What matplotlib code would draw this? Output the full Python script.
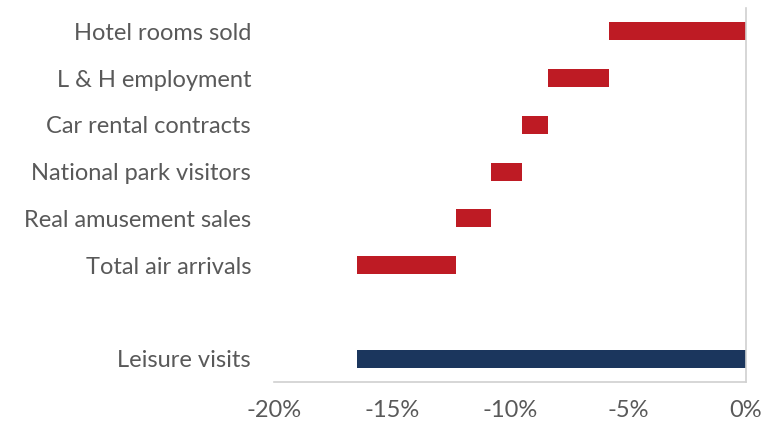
import numpy as np
import matplotlib.pyplot as plt

plt.rcParams['font.family'] = ['Lato', 'DejaVu Sans']

# Contributions to the drop in leisure visits (percentage points)
categories = ['Hotel rooms sold', 'L & H employment', 'Car rental contracts',
              'National park visitors', 'Real amusement sales', 'Total air arrivals']
changes = [-5.8, -2.6, -1.1, -1.3, -1.5, -4.2]
total_label = 'Leisure visits'
total_value = -16.5

xticks = [-20, -15, -10, -5, 0]
xtick_labels = ['-20%', '-15%', '-10%', '-5%', '0%']

red = '#BE1B24'
navy = '#1B365D'
grey_text = '#595959'

fig = plt.figure(figsize=(7.73, 4.25), dpi=100)
ax = fig.add_axes([274 / 773, 43 / 425, 472 / 773, 374 / 425])

# floating bars: each one starts where the previous one ended
ends = np.cumsum(changes)
starts = ends - np.array(changes)
ypos = np.arange(len(categories))
ax.barh(ypos, changes, left=starts, height=0.39, color=red)

total_pos = len(categories) + 1
ax.barh(total_pos, total_value, height=0.39, color=navy)

ax.set_yticks(list(ypos) + [total_pos])
ax.set_yticklabels(categories + [total_label])
ax.set_ylim(total_pos + 0.5, -0.5)

ax.set_xlim(-20, 0)
ax.set_xticks(xticks)
ax.set_xticklabels(xtick_labels)

ax.tick_params(axis='both', length=0, labelsize=17, labelcolor=grey_text)
ax.tick_params(axis='y', pad=16.5)
ax.tick_params(axis='x', pad=13)

for side in ['top', 'left']:
    ax.spines[side].set_visible(False)
for side in ['right', 'bottom']:
    ax.spines[side].set_color('#D0D0D0')
    ax.spines[side].set_linewidth(1.2)

fig.savefig('out.png', dpi=100)
